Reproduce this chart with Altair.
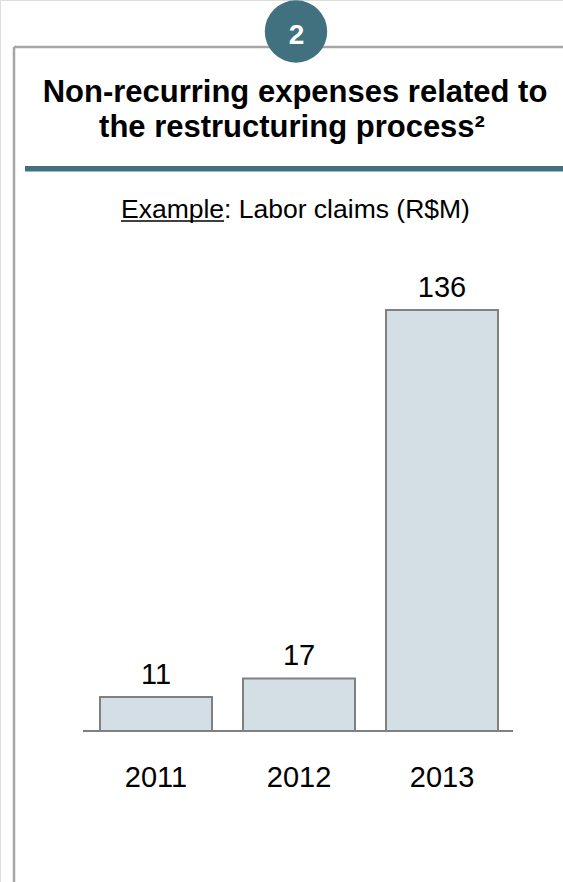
import altair as alt
import pandas as pd

# ---- data ----
years = ["2011", "2012", "2013"]
values = [11, 17, 136]
badge = ["2"]
title_lines = ["Non-recurring expenses related to", "the restructuring process²"]
subtitle_underlined = ["Example"]
subtitle_rest = [": Labor claims (R$M)"]

TEAL = "#41707f"
FRAME = "#a6a6a6"
BAR_FILL = "#d3dfe5"
BAR_STROKE = "#808080"
FONT = "Liberation Sans"

df = pd.DataFrame({"year": years, "value": values})
one = alt.Data(values=[{}])

x_scale = alt.Scale(range=[84.5, 513.5], paddingInner=0.2168, paddingOuter=0.1084)
x_enc = alt.X("year:N", axis=None, scale=x_scale)
x_mid = alt.X("year:N", axis=None, scale=x_scale, bandPosition=0.5)
y_enc = alt.Y("value:Q", axis=None, scale=alt.Scale(domain=[0, 136], range=[731, 310]))

# frame lines
frame_left = alt.Chart(one).mark_rule(color=FRAME, strokeWidth=2.5).encode(
    x=alt.value(14), y=alt.value(47), y2=alt.value(882))
frame_top = alt.Chart(one).mark_rule(color=FRAME, strokeWidth=2.5).encode(
    x=alt.value(14), x2=alt.value(563), y=alt.value(47))

# teal separator
sep = alt.Chart(one).mark_rect(color=TEAL).encode(
    x=alt.value(25), x2=alt.value(563), y=alt.value(166), y2=alt.value(171.5))

# badge circle
circ = alt.Chart(one).mark_point(shape="circle", filled=True, opacity=1, color=TEAL, size=3900).encode(
    x=alt.value(296), y=alt.value(31.5))
badge_text = alt.Chart(pd.DataFrame({"t": badge})).mark_text(
    font=FONT, fontSize=28, fontWeight="bold", color="white", align="center", baseline="alphabetic"
).encode(x=alt.value(296.5), y=alt.value(44), text="t:N")

# title
t1 = alt.Chart(pd.DataFrame({"t": title_lines[:1]})).mark_text(
    font=FONT, fontSize=31, fontWeight="bold", color="black", align="center", baseline="alphabetic"
).encode(x=alt.value(295), y=alt.value(102), text="t:N")
t2 = alt.Chart(pd.DataFrame({"t": title_lines[1:]})).mark_text(
    font=FONT, fontSize=31, fontWeight="bold", color="black", align="center", baseline="alphabetic"
).encode(x=alt.value(292), y=alt.value(137), text="t:N")

# subtitle
s1 = alt.Chart(pd.DataFrame({"t": subtitle_underlined})).mark_text(
    font=FONT, fontSize=26.5, color="black", align="left", baseline="alphabetic"
).encode(x=alt.value(121), y=alt.value(218), text="t:N")
s2 = alt.Chart(pd.DataFrame({"t": subtitle_rest})).mark_text(
    font=FONT, fontSize=26.5, color="black", align="left", baseline="alphabetic"
).encode(x=alt.value(224), y=alt.value(218), text="t:N")
uline = alt.Chart(one).mark_rule(color="black", strokeWidth=1.5).encode(
    x=alt.value(121), x2=alt.value(224), y=alt.value(221))

# bars
bars = alt.Chart(df).mark_bar(fill=BAR_FILL, stroke=BAR_STROKE, strokeWidth=2).encode(
    x=x_enc, y=y_enc)
labels = alt.Chart(df).mark_text(
    font=FONT, fontSize=29, color="black", align="center", baseline="alphabetic", dy=-13
).encode(x=x_mid, y=y_enc, text="value:Q")
baseline = alt.Chart(one).mark_rule(color=BAR_STROKE, strokeWidth=2).encode(
    x=alt.value(83), x2=alt.value(513), y=alt.value(731))
year_labels = alt.Chart(df).mark_text(
    font=FONT, fontSize=29, color="black", align="center", baseline="alphabetic"
).encode(x=x_mid, y=alt.value(787), text="year:N")

chart = alt.layer(
    frame_left, frame_top, sep, circ, badge_text, t1, t2, s1, s2, uline,
    bars, baseline, labels, year_labels
).properties(
    width=563, height=882, padding=0, autosize=alt.AutoSizeParams(type="none")
).configure_view(stroke=None).configure(background="white")

chart.save("out.html", embed_options={"renderer": "svg", "actions": False})
